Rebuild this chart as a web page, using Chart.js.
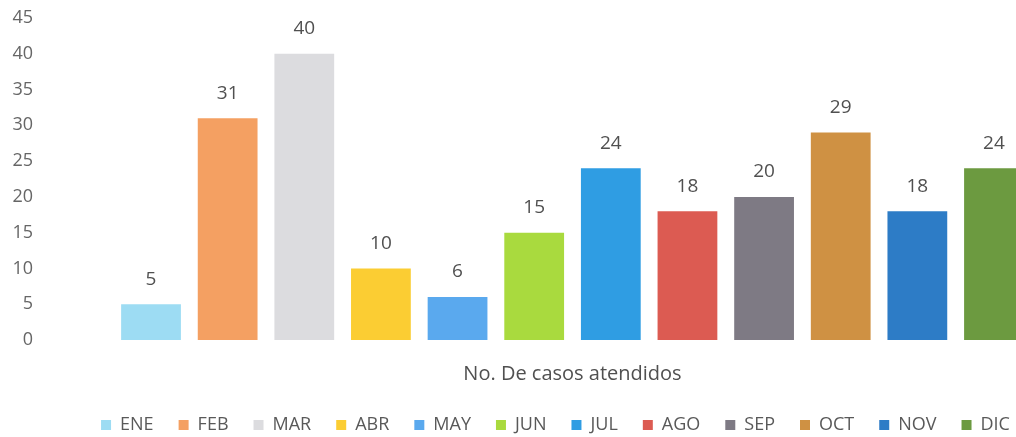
<!DOCTYPE html>
<html>
<head>
<meta charset="utf-8">
<script src="https://cdn.jsdelivr.net/npm/chart.js@4.4.1/dist/chart.umd.min.js"></script>
<style>
  html, body { margin: 0; padding: 0; background: #fff; overflow: hidden; }
  #wrap { width: 1016px; height: 437px; overflow: hidden; }
</style>
</head>
<body>
<div id="wrap"><canvas id="c" width="1100" height="444"></canvas></div>
<script>
// one category, one series per month (Excel-style clustered column)
const category = ["No. De casos atendidos"];
const months = ["ENE", "FEB", "MAR", "ABR", "MAY", "JUN", "JUL", "AGO", "SEP", "OCT", "NOV", "DIC"];
const cases = [5, 31, 40, 10, 6, 15, 24, 18, 20, 29, 18, 24];
const colors = ["#9ddcf3", "#f4a062", "#dcdcdf", "#fbcd33", "#5aa9ee", "#a9da3e",
                "#2f9de3", "#dc5b52", "#7e7a84", "#cf9143", "#2d7cc6", "#6c9a40"];
const yTicks = [0, 5, 10, 15, 20, 25, 30, 35, 40, 45];

const FONT = "'Open Sans', 'Noto Sans', sans-serif";

// value labels above each bar
const valueLabels = {
  id: "valueLabels",
  afterDatasetsDraw(chart) {
    const ctx = chart.ctx;
    ctx.save();
    ctx.font = "19px " + FONT;
    ctx.fillStyle = "#505050";
    ctx.textAlign = "center";
    ctx.textBaseline = "middle";
    chart.data.datasets.forEach((ds, i) => {
      chart.getDatasetMeta(i).data.forEach((bar, j) => {
        ctx.fillText(String(ds.data[j]), bar.x, bar.y - 25);
      });
    });
    ctx.restore();
  },
};

// the source legend sits a little right of the canvas centre
const legendShift = {
  id: "legendShift",
  afterLayout(chart) {
    if (chart.legend) { chart.legend.left += 8; chart.legend.right += 8; }
  },
};

new Chart(document.getElementById("c"), {
  type: "bar",
  data: {
    labels: category,
    datasets: months.map((m, i) => ({
      label: m, data: [cases[i]], backgroundColor: colors[i],
      barPercentage: 0.78, categoryPercentage: 0.88,
    })),
  },
  options: {
    responsive: false, animation: false,
    layout: { padding: { top: 18, right: 5, left: 0, bottom: 0 } },
    plugins: {
      tooltip: { enabled: false },
      legend: {
        position: "bottom",
        labels: { boxWidth: 10, boxHeight: 10, padding: 25, color: "#595959", font: { family: FONT, size: 18 } },
      },
    },
    scales: {
      y: {
        min: 0, max: 45,
        afterFit(s) { s.width = 50; s.paddingTop = 0; s.paddingBottom = 0; },
        afterBuildTicks(s) { s.ticks = yTicks.map(v => ({ value: v })); },
        grid: { display: false, drawTicks: false },
        border: { display: false },
        ticks: { padding: 17, color: "#666666", font: { family: FONT, size: 18 } },
      },
      x: {
        afterFit(s) { s.height = 51; },
        grid: { display: false, drawTicks: false },
        border: { display: false },
        ticks: { padding: 22, color: "#505050", font: { family: FONT, size: 20 } },
      },
    },
  },
  plugins: [valueLabels, legendShift],
});
</script>
</body>
</html>
